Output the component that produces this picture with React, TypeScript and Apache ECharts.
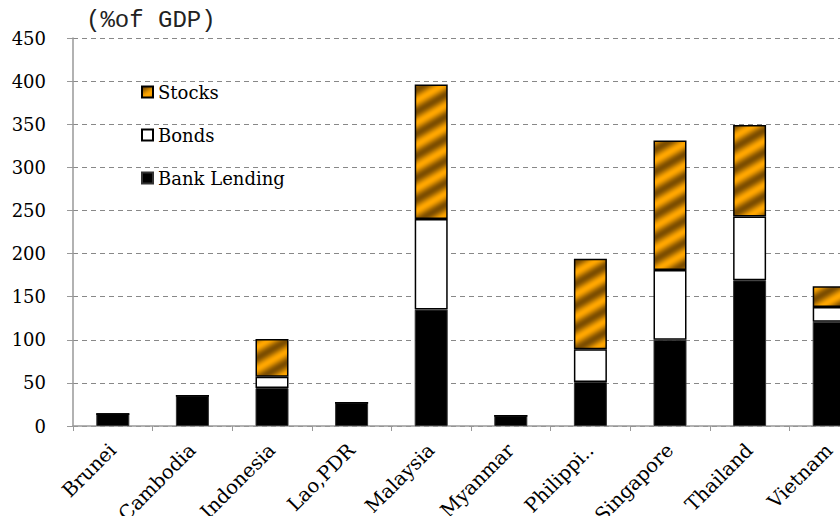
import React, { useEffect, useRef } from "react";
import * as echarts from "echarts";

const categories = ["Brunei", "Cambodia", "Indonesia", "Lao,PDR", "Malaysia", "Myanmar", "Philippi..", "Singapore", "Thailand", "Vietnam"];
const bankLending = [14, 35, 44, 27, 135, 12, 51, 100, 169, 121];
const bonds = [0, 0, 13, 0, 105, 0, 38, 81, 74, 17];
const stocks = [0, 0, 44, 0, 156, 0, 105, 150, 106, 24];
const legendNames = ["Stocks", "Bonds", "Bank Lending"];

function makePattern(): HTMLCanvasElement {
  const W = 38, H = 22;
  const c = document.createElement("canvas");
  c.width = W; c.height = H;
  const ctx = c.getContext("2d")!;
  const img = ctx.createImageData(W, H);
  const dark = [125, 78, 0];
  const light = [255, 166, 0];
  for (let y = 0; y < H; y++) {
    for (let x = 0; x < W; x++) {
      const t = (x / W + y / H) % 1;
      const k = 0.5 + 0.5 * Math.cos(2 * Math.PI * t);
      const i = (y * W + x) * 4;
      for (let j = 0; j < 3; j++) img.data[i + j] = Math.round(light[j] * (1 - k) + dark[j] * k);
      img.data[i + 3] = 255;
    }
  }
  ctx.putImageData(img, 0, 0);
  return c;
}

export default function App() {
  const ref = useRef<HTMLDivElement>(null);
  useEffect(() => {
    if (!ref.current) return;
    const chart = echarts.init(ref.current, null, { renderer: "svg" });
    const pattern = { image: makePattern(), repeat: "repeat" } as any;
    const font = "DejaVu Serif";
    chart.setOption({
      animation: false,
      backgroundColor: "#fff",
      title: {
        text: "(%of GDP)",
        left: 86,
        top: 8,
        padding: 0,
        textStyle: { fontFamily: "'Liberation Mono', monospace", fontSize: 24, fontWeight: "normal", color: "#222" },
      },
      legend: {
        data: legendNames,
        orient: "vertical",
        left: 136,
        top: 77,
        itemWidth: 11,
        itemHeight: 11,
        itemGap: 23,
        icon: "rect",
        selectedMode: false,
        textStyle: { fontFamily: font, fontSize: 18, color: "#000", lineHeight: 20 },
      },
      grid: { left: 73, width: 796, top: 38, bottom: 90, containLabel: false, outerBoundsMode: "none" },
      xAxis: {
        type: "category",
        data: categories,
        axisLine: { lineStyle: { color: "#999", width: 1.5 } },
        axisTick: { show: true, length: 5, lineStyle: { color: "#999" } },
        axisLabel: { rotate: 45, margin: 21, fontFamily: font, fontSize: 19.5, color: "#000", interval: 0 },
      },
      yAxis: {
        type: "value",
        min: 0,
        max: 450,
        interval: 50,
        axisLine: { show: true, lineStyle: { color: "#999", width: 1.5 } },
        axisTick: { show: true, length: 6, lineStyle: { color: "#999" } },
        axisLabel: { margin: 27, fontFamily: font, fontSize: 18, color: "#000" },
        splitLine: { show: true, lineStyle: { color: "#888", type: [5, 4], width: 1 } },
      },
      series: [
        {
          name: "Bank Lending",
          type: "bar",
          stack: "total",
          barWidth: 33,
          data: bankLending,
          itemStyle: { color: "#000", borderColor: "#333", borderWidth: 1 },
        },
        {
          name: "Bonds",
          type: "bar",
          stack: "total",
          barWidth: 33,
          data: bonds,
          itemStyle: { color: "#fff", borderColor: "#000", borderWidth: 1.5 },
        },
        {
          name: "Stocks",
          type: "bar",
          stack: "total",
          barWidth: 33,
          data: stocks,
          itemStyle: { color: pattern, borderColor: "#000", borderWidth: 1.5 },
        },
      ],
    });
    return () => chart.dispose();
  }, []);
  return <div ref={ref} style={{ width: 840, height: 516, position: "absolute", left: 0, top: 0 }} />;
}
